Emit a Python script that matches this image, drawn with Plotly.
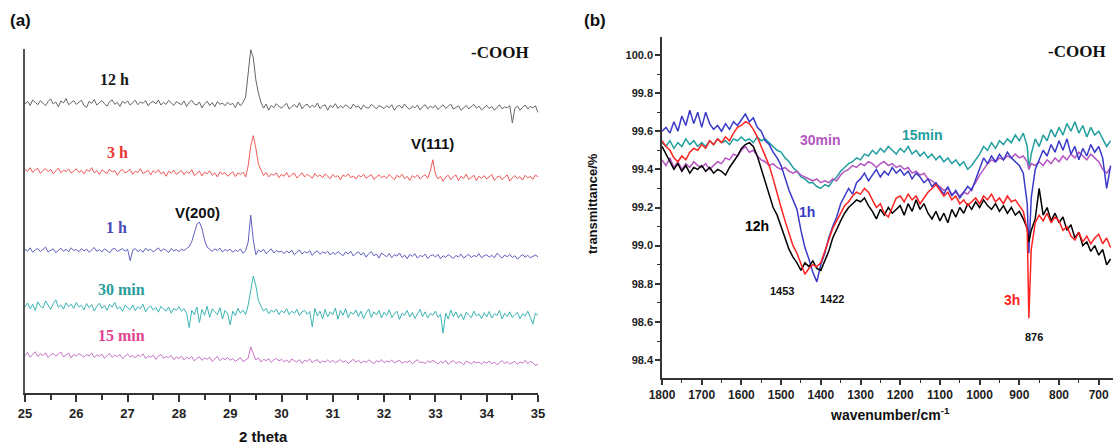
import numpy as np
import plotly.graph_objects as go

# ---------------- Panel (a): XRD ----------------
two_theta = [round(25 + 0.05 * i, 2) for i in range(201)]

xrd_12h = [
    840, 848, 836, 852, 845, 838, 850, 842, 835, 847, 855, 840, 846, 832, 849, 843, 856, 838, 845, 850,
    839, 845, 851, 836, 830, 848, 842, 853, 837, 844, 850, 841, 834, 847, 852, 839, 845, 833, 848, 842,
    849, 837, 843, 851, 838, 846, 842, 850, 835, 844, 848, 840, 852, 837, 845, 839, 851, 843, 836, 847,
    842, 838, 849, 833, 845, 851, 840, 837, 846, 829, 841, 848, 836, 844, 832, 847, 839, 843, 835, 845,
    838, 842, 830, 846, 835, 845, 860, 930, 998, 975, 910, 872, 845, 828, 840, 822, 836, 829, 841, 833,
    828, 836, 842, 825, 833, 839, 830, 844, 826, 835, 840, 829, 837, 831, 843, 827, 834, 838, 822, 836,
    830, 841, 827, 835, 829, 838, 832, 826, 840, 831, 834, 824, 837, 830, 828, 839, 833, 826, 836, 831,
    827, 835, 829, 838, 822, 833, 836, 828, 840, 830, 825, 834, 829, 837, 823, 832, 838, 826, 834, 829,
    836, 824, 831, 838, 827, 833, 840, 825, 830, 835, 822, 829, 836, 826, 832, 839, 828, 834, 823, 831,
    836, 827, 833, 822, 830, 838, 826, 832, 829, 835, 785, 828, 834, 822, 831, 837, 826, 833, 829, 835,
    815]
xrd_3h = [
    650, 644, 655, 641, 649, 653, 638, 647, 652, 643, 650, 637, 646, 654, 640, 648, 644, 651, 639, 646,
    652, 641, 647, 637, 650, 644, 655, 640, 646, 635, 649, 643, 638, 651, 642, 647, 633, 645, 650, 639,
    644, 650, 636, 645, 641, 652, 638, 643, 647, 634, 646, 640, 649, 637, 643, 630, 645, 639, 648, 636,
    641, 647, 635, 644, 638, 649, 632, 640, 645, 631, 642, 637, 646, 633, 640, 628, 643, 636, 641, 630,
    638, 643, 629, 640, 635, 642, 628, 660, 718, 748, 712, 665, 648, 632, 641, 628, 637, 633, 640, 626,
    636, 630, 641, 627, 635, 639, 625, 633, 640, 628, 636, 631, 624, 638, 629, 634, 626, 637, 631, 623,
    635, 628, 632, 620, 634, 629, 637, 626, 631, 622, 633, 628, 636, 624, 630, 635, 621, 629, 634, 626,
    631, 624, 635, 628, 620, 633, 627, 636, 623, 630, 618, 632, 626, 634, 622, 629, 635, 624, 645, 678,
    636, 622, 630, 615, 628, 633, 620, 629, 634, 617, 630, 624, 636, 621, 628, 633, 617, 630, 624, 632,
    622, 629, 635, 618, 627, 631, 620, 628, 634, 616, 626, 632, 623, 629, 619, 633, 625, 630, 621, 634,
    628]
xrd_1h = [
    418, 412, 422, 409, 416, 420, 411, 417, 424, 410, 415, 419, 408, 416, 421, 412, 418, 410, 422, 414,
    417, 411, 420, 413, 418, 409, 416, 423, 412, 417, 410, 419, 414, 407, 418, 421, 411, 416, 420, 412,
    418, 385, 415, 420, 411, 417, 409, 421, 414, 418, 410, 416, 422, 412, 419, 415, 408, 420, 413, 417,
    411, 418, 414, 420, 425, 440, 468, 490, 497, 478, 445, 424, 418, 412, 419, 414, 421, 410, 417, 413,
    418, 409, 416, 411, 419, 406, 414, 438, 517, 445, 402, 416, 410, 418, 405, 413, 419, 407, 414, 410,
    412, 405, 413, 407, 415, 402, 410, 416, 404, 411, 407, 414, 400, 409, 413, 403, 410, 406, 412, 401,
    409, 403, 411, 405, 399, 410, 404, 412, 398, 406, 410, 401, 408, 395, 405, 411, 399, 404, 392, 407,
    401, 396, 405, 393, 402, 398, 407, 394, 401, 390, 403, 397, 405, 392, 400, 396, 404, 391, 399, 402,
    395, 403, 390, 399, 394, 402, 397, 391, 400, 395, 404, 392, 398, 403, 394, 400, 396, 405, 393, 399,
    402, 395, 400, 393, 406, 398, 392, 401, 396, 403, 394, 399, 389, 397, 402, 395, 400, 393, 398, 401,
    396]
xrd_30min = [
    250, 262, 245, 258, 240, 265, 252, 247, 268, 255, 243, 260, 271, 249, 256, 244, 262, 251, 258, 246,
    263, 250, 255, 242, 260, 248, 257, 238, 252, 261, 246, 254, 240, 258, 249, 263, 244, 251, 237, 255,
    248, 242, 256, 239, 251, 245, 258, 236, 247, 253, 241, 249, 235, 252, 244, 238, 250, 232, 246, 240,
    251, 238, 245, 232, 190, 240, 228, 250, 205, 243, 226, 252, 220, 245, 236, 228, 248, 215, 240, 230,
    198, 238, 225, 246, 232, 241, 228, 255, 298, 340, 312, 268, 252, 238, 246, 230, 241, 235, 244, 228,
    240, 233, 245, 228, 238, 231, 243, 225, 236, 240, 229, 237, 192, 246, 224, 238, 215, 243, 221, 236,
    228, 247, 215, 240, 226, 245, 219, 235, 229, 241, 222, 238, 216, 233, 244, 220, 236, 227, 240, 218,
    235, 225, 242, 219, 230, 238, 214, 232, 226, 240, 221, 234, 217, 229, 243, 222, 236, 218, 231, 226,
    238, 220, 229, 174, 232, 215, 241, 222, 236, 218, 230, 213, 235, 226, 219, 238, 224, 230, 216, 233,
    221, 237, 218, 230, 225, 240, 215, 232, 222, 236, 219, 228, 234, 216, 230, 224, 238, 220, 200, 232,
    225]
xrd_15min = [
    108, 118, 104, 112, 120, 106, 114, 109, 117, 103, 111, 115, 107, 113, 119, 105, 110, 116, 102, 112,
    107, 114, 110, 104, 112, 108, 116, 103, 111, 107, 113, 101, 109, 115, 104, 110, 106, 112, 100, 108,
    113, 105, 109, 102, 111, 106, 114, 100, 108, 104, 110, 98, 107, 112, 101, 106, 103, 109, 97, 105,
    100, 107, 96, 104, 99, 106, 93, 101, 105, 95, 102, 98, 104, 92, 100, 106, 94, 101, 97, 103,
    95, 100, 92, 98, 103, 91, 97, 101, 134, 112, 96, 102, 90, 98, 94, 100, 89, 96, 101, 93,
    98, 91, 96, 88, 99, 94, 90, 97, 86, 95, 92, 99, 88, 94, 97, 87, 93, 90, 96, 89,
    95, 88, 93, 97, 89, 94, 86, 92, 98, 90, 95, 87, 93, 89, 96, 91, 85, 94, 90, 97,
    88, 93, 90, 96, 87, 92, 95, 86, 91, 89, 94, 85, 92, 97, 88, 90, 86, 93, 89, 95,
    90, 84, 92, 87, 95, 83, 90, 94, 86, 91, 88, 82, 93, 89, 85, 92, 87, 90, 84, 91,
    87, 93, 85, 90, 82, 88, 94, 86, 91, 84, 89, 92, 83, 90, 87, 95, 85, 92, 88, 80,
    84]

xrd_names = ["12 h", "3 h", "1 h", "30 min", "15 min"]
xrd_series = [xrd_12h, xrd_3h, xrd_1h, xrd_30min, xrd_15min]
xrd_line_colors = ["#666666", "#f25a5a", "#5f5fbf", "#3cb4b4", "#c474c4"]
xrd_label_colors = ["#1a1a1a", "#ee3333", "#4a4ab8", "#2a9c9c", "#e04590"]
xrd_label_pos = [(26.75, 910), (26.81, 700), (26.79, 480), (26.89, 300), (26.89, 166)]
xrd_ticks = list(range(25, 36))

# ---------------- Panel (b): FTIR ----------------
wavenumber = list(range(1800, 875, -10)) + [876] + list(range(870, 665, -10))

ftir_12h = [
    99.52, 99.48, 99.44, 99.40, 99.43, 99.39, 99.42, 99.38, 99.41, 99.40,
    99.42, 99.39, 99.41, 99.38, 99.40, 99.39, 99.37, 99.41, 99.44, 99.47,
    99.51, 99.53, 99.54, 99.52, 99.47, 99.40, 99.33, 99.26, 99.20, 99.16,
    99.10, 99.04, 98.98, 98.94, 98.91, 98.87, 98.91, 98.89, 98.92, 98.88,
    98.87, 98.92, 98.97, 99.04, 99.09, 99.13, 99.17, 99.20, 99.22, 99.24,
    99.23, 99.25, 99.21, 99.18, 99.14, 99.19, 99.16, 99.20, 99.17, 99.19,
    99.21, 99.16, 99.22, 99.18, 99.24, 99.19, 99.22, 99.17, 99.14, 99.18,
    99.13, 99.17, 99.12, 99.19, 99.15, 99.20, 99.17, 99.22, 99.19, 99.23,
    99.20, 99.24, 99.21, 99.19, 99.22, 99.18, 99.21, 99.17, 99.20, 99.16,
    99.18, 99.14, 99.09, 99.02, 99.08, 99.14, 99.30, 99.16, 99.20, 99.13, 99.17,
    99.12, 99.15, 99.08, 99.11, 99.04, 99.07, 99.00, 99.02, 98.97, 99.00,
    98.95, 98.98, 98.90, 98.93]
ftir_3h = [
    99.55, 99.52, 99.50, 99.46, 99.44, 99.47, 99.45, 99.49, 99.51, 99.50,
    99.53, 99.51, 99.55, 99.53, 99.56, 99.54, 99.57, 99.55, 99.59, 99.62,
    99.63, 99.65, 99.64, 99.61, 99.57, 99.52, 99.47, 99.42, 99.35, 99.27,
    99.20, 99.13, 99.06, 99.00, 98.96, 98.91, 98.85, 98.88, 98.90, 98.89,
    98.91, 98.97, 99.03, 99.09, 99.13, 99.17, 99.21, 99.23, 99.26, 99.28,
    99.27, 99.30, 99.28, 99.24, 99.20, 99.22, 99.17, 99.15, 99.20, 99.25,
    99.26, 99.23, 99.27, 99.24, 99.26, 99.22, 99.25, 99.28, 99.30, 99.32,
    99.29, 99.26, 99.28, 99.24, 99.26, 99.22, 99.24, 99.21, 99.23, 99.25,
    99.22, 99.26, 99.24, 99.27, 99.23, 99.25, 99.22, 99.26, 99.23, 99.24,
    99.21, 99.18, 99.08, 98.62, 98.98, 99.12, 99.16, 99.13, 99.17, 99.12, 99.15,
    99.13, 99.08, 99.10, 99.05, 99.03, 99.07, 99.02, 99.05, 99.01, 99.04,
    99.06, 99.01, 99.04, 98.99]
ftir_1h = [
    99.60, 99.62, 99.59, 99.65, 99.60, 99.68, 99.63, 99.71, 99.64, 99.70,
    99.62, 99.70, 99.64, 99.61, 99.63, 99.60, 99.64, 99.61, 99.65, 99.63,
    99.66, 99.69, 99.65, 99.67, 99.62, 99.60, 99.55, 99.53, 99.49, 99.46,
    99.42, 99.35, 99.29, 99.24, 99.19, 99.08, 98.99, 98.93, 98.86, 98.81,
    98.90, 98.96, 99.04, 99.10, 99.15, 99.22, 99.26, 99.30, 99.27, 99.33,
    99.35, 99.38, 99.34, 99.37, 99.40, 99.36, 99.39, 99.37, 99.41, 99.38,
    99.40, 99.37, 99.39, 99.35, 99.38, 99.36, 99.33, 99.35, 99.31, 99.33,
    99.30, 99.27, 99.31, 99.26, 99.29, 99.25, 99.28, 99.31, 99.29, 99.35,
    99.40, 99.46, 99.43, 99.47, 99.44, 99.48, 99.45, 99.49, 99.46, 99.44,
    99.42, 99.38, 99.22, 98.96, 99.25, 99.40, 99.45, 99.50, 99.47, 99.53, 99.49,
    99.55, 99.50, 99.56, 99.48, 99.52, 99.45, 99.51, 99.47, 99.53, 99.49,
    99.52, 99.46, 99.30, 99.42]
ftir_30min = [
    99.45, 99.42, 99.46, 99.41, 99.44, 99.40, 99.43, 99.41, 99.44, 99.42,
    99.41, 99.43, 99.40, 99.42, 99.44, 99.43, 99.46, 99.45, 99.48, 99.47,
    99.50, 99.52, 99.49, 99.50, 99.47, 99.45, 99.44, 99.42, 99.43, 99.41,
    99.40, 99.41, 99.39, 99.38, 99.39, 99.37, 99.36, 99.35, 99.34, 99.35,
    99.33, 99.34, 99.33, 99.35, 99.34, 99.37, 99.39, 99.40, 99.42, 99.41,
    99.43, 99.42, 99.44, 99.43, 99.41, 99.43, 99.44, 99.42, 99.43, 99.41,
    99.42, 99.40, 99.41, 99.38, 99.39, 99.37, 99.38, 99.35, 99.34, 99.32,
    99.31, 99.29, 99.30, 99.27, 99.28, 99.26, 99.28, 99.27, 99.30, 99.33,
    99.37, 99.40, 99.43, 99.45, 99.44, 99.46, 99.45, 99.47, 99.46, 99.48,
    99.46, 99.47, 99.44, 99.40, 99.43, 99.42, 99.44, 99.42, 99.45, 99.43, 99.46,
    99.44, 99.47, 99.45, 99.48, 99.46, 99.49, 99.47, 99.45, 99.48, 99.46,
    99.44, 99.40, 99.38, 99.41]
ftir_15min = [
    99.54, 99.52, 99.55, 99.51, 99.54, 99.52, 99.56, 99.53, 99.55, 99.52,
    99.54, 99.52, 99.55, 99.53, 99.56, 99.54, 99.55, 99.53, 99.56, 99.55,
    99.57, 99.55, 99.56, 99.54, 99.57, 99.55, 99.56, 99.54, 99.52, 99.50,
    99.49, 99.46, 99.44, 99.41, 99.39, 99.36, 99.35, 99.33, 99.33, 99.31,
    99.30, 99.32, 99.31, 99.34, 99.36, 99.39, 99.41, 99.43, 99.44, 99.46,
    99.45, 99.48, 99.47, 99.50, 99.48, 99.51, 99.49, 99.52, 99.50, 99.48,
    99.51, 99.49, 99.52, 99.48, 99.50, 99.47, 99.49, 99.46, 99.48, 99.45,
    99.47, 99.44, 99.46, 99.43, 99.45, 99.42, 99.44, 99.40, 99.42, 99.45,
    99.48, 99.52, 99.50, 99.54, 99.51, 99.55, 99.53, 99.56, 99.54, 99.58,
    99.55, 99.59, 99.52, 99.40, 99.48, 99.56, 99.52, 99.58, 99.55, 99.61, 99.57,
    99.62, 99.58, 99.64, 99.60, 99.65, 99.59, 99.63, 99.57, 99.62, 99.58,
    99.60, 99.56, 99.52, 99.55]

ftir_series = [ftir_15min, ftir_30min, ftir_1h, ftir_12h, ftir_3h]
ftir_names = ["15min", "30min", "1h", "12h", "3h"]
ftir_colors = ["#229e9e", "#b455c0", "#3a3ac8", "#000000", "#ff2222"]
ftir_ticks_x = list(range(1800, 650, -100))
ftir_ticks_y = [98.4, 98.6, 98.8, 99.0, 99.2, 99.4, 99.6, 99.8, 100.0]

# ---------------- Figure ----------------
W, H = 1113, 445
fig = go.Figure()

for name, ys, col in zip(xrd_names, xrd_series, xrd_line_colors):
    fig.add_trace(go.Scatter(x=two_theta, y=ys, mode="lines", name=name,
                             line=dict(color=col, width=1), xaxis="x", yaxis="y",
                             showlegend=False))

for name, ys, col in zip(ftir_names, ftir_series, ftir_colors):
    fig.add_trace(go.Scatter(x=wavenumber, y=ys, mode="lines", name=name,
                             line=dict(color=col, width=1.5), xaxis="x2", yaxis="y2",
                             showlegend=False))

sans = "Liberation Sans, Arial, sans-serif"
serif = "Liberation Serif, Times New Roman, serif"

def px_x(p):
    return p / W

def px_y(p):
    return 1 - p / H

fig.update_layout(
    width=W, height=H,
    margin=dict(l=0, r=0, t=0, b=0, autoexpand=False),
    paper_bgcolor="white", plot_bgcolor="white",
    xaxis=dict(domain=[px_x(25), px_x(538)], range=[25, 35], automargin=False,
               tickvals=xrd_ticks, ticks="outside", ticklen=7, tickwidth=1.5,
               tickcolor="#333", showline=True, linecolor="#333", linewidth=2,
               showgrid=False, zeroline=False,
               minor=dict(dtick=0.5, ticks="outside", ticklen=5, tickcolor="#333", tickwidth=1.5),
               tickfont=dict(family=sans, size=13, color="#222", weight="bold")),
    yaxis=dict(domain=[px_y(393), px_y(49)], range=[0, 1000], automargin=False,
               showline=True, linecolor="#555", linewidth=2, showticklabels=False,
               ticks="", showgrid=False, zeroline=False),
    xaxis2=dict(domain=[px_x(662), 1.0], range=[1800, 664], anchor="y2", automargin=False,
                tickvals=ftir_ticks_x, ticks="outside", ticklen=5, tickwidth=1.5,
                tickcolor="#333", showline=True, linecolor="#333", linewidth=1.5,
                showgrid=False, zeroline=False,
                minor=dict(dtick=50, ticks="outside", ticklen=3, tickcolor="#333", tickwidth=1.2),
                tickfont=dict(family=sans, size=12, color="#222", weight="bold")),
    yaxis2=dict(domain=[px_y(378), px_y(37)], range=[98.306, 100.094], anchor="x2",
                automargin=False,
                tickvals=ftir_ticks_y, tickformat=".1f", ticks="outside", ticklen=5,
                tickwidth=1.5, tickcolor="#333", showline=True, linecolor="#333",
                linewidth=1.5, showgrid=False, zeroline=False,
                minor=dict(dtick=0.1, ticks="outside", ticklen=3, tickcolor="#333", tickwidth=1.2),
                tickfont=dict(family=sans, size=11, color="#222", weight="bold")),
)

ann = []
def add(text, x, y, xref, yref, family, size, color, angle=0):
    ann.append(dict(x=x, y=y, xref=xref, yref=yref, text=text, showarrow=False,
                    xanchor="center", yanchor="middle", textangle=angle,
                    font=dict(family=family, size=size, color=color, weight="bold")))

# Panel a labels
for name, (lx, ly), col in zip(xrd_names, xrd_label_pos, xrd_label_colors):
    add(name, lx, ly, "x", "y", serif, 16, col)
for txt, lx, ly in [("C(104)", 29.44, 1055), ("V(111)", 32.95, 724), ("V(200)", 28.37, 526)]:
    add(txt, lx, ly, "x", "y", sans, 15, "#111")
add("-COOH", 34.26, 991, "x", "y", serif, 17, "#111")
add("(a)", px_x(20), px_y(20), "paper", "paper", sans, 17, "#111")
add("2 theta", px_x(263), px_y(436), "paper", "paper", sans, 15, "#111")

# Panel b labels
for txt, lx, ly, col, sz in [
    ("30min", 1402, 99.554, "#b455c0", 14),
    ("15min", 1145, 99.58, "#229e9e", 14),
    ("1h", 1435, 99.176, "#3a3ac8", 14),
    ("12h", 1561, 99.103, "#000000", 14),
    ("3h", 918, 98.715, "#ff2222", 14),
    ("1453", 1498, 98.76, "#111111", 11),
    ("1422", 1372, 98.72, "#111111", 11),
    ("876", 863, 98.52, "#111111", 11),
]:
    add(txt, lx, ly, "x2", "y2", sans, sz, col)
add("-COOH", 755, 100.016, "x2", "y2", serif, 17, "#111")
add("(b)", px_x(595), px_y(20), "paper", "paper", sans, 17, "#111")
add("transmittance/%", px_x(592), px_y(203), "paper", "paper", sans, 13, "#111", angle=-90)
add("wavenumber/cm<sup>-1</sup>", px_x(890), px_y(414), "paper", "paper", sans, 14, "#111")

fig.update_layout(annotations=ann)
fig.write_html("out.html", config={"displayModeBar": False},
               post_script="document.body.style.margin='0';document.body.style.padding='0';"
                           "document.body.style.overflow='hidden';")
